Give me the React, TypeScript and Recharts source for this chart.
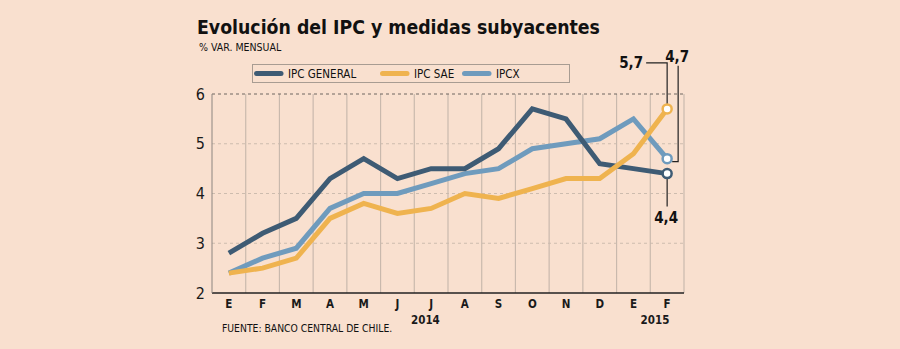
import React from 'react';
import { LineChart, Line, XAxis, YAxis, CartesianGrid, ReferenceLine } from 'recharts';

const months = ['E', 'F', 'M', 'A', 'M', 'J', 'J', 'A', 'S', 'O', 'N', 'D', 'E', 'F'];
const ipcGeneral = [2.8, 3.2, 3.5, 4.3, 4.7, 4.3, 4.5, 4.5, 4.9, 5.7, 5.5, 4.6, 4.5, 4.4];
const ipcSae = [2.4, 2.5, 2.7, 3.5, 3.8, 3.6, 3.7, 4.0, 3.9, 4.1, 4.3, 4.3, 4.8, 5.7];
const ipcx = [2.4, 2.7, 2.9, 3.7, 4.0, 4.0, 4.2, 4.4, 4.5, 4.9, 5.0, 5.1, 5.5, 4.7];
const yTicks = [2, 3, 4, 5, 6];
const years = [
  { label: '2014', pos: 5.83 },
  { label: '2015', pos: 12.64 },
];

const BG = '#f9e0cf';
const F = "'DejaVu Sans Condensed', 'DejaVu Sans', sans-serif";
const TEXT = '#1a1a1a';

type Series = { key: string; name: string; color: string; values: number[]; note: 'below' | 'upLeft' | 'upRight' };
const series: Series[] = [
  { key: 'general', name: 'IPC GENERAL', color: '#3e5b74', values: ipcGeneral, note: 'below' },
  { key: 'sae', name: 'IPC SAE', color: '#efb34f', values: ipcSae, note: 'upLeft' },
  { key: 'ipcx', name: 'IPCX', color: '#6f9bbd', values: ipcx, note: 'upRight' },
];
const drawOrder = ['ipcx', 'general', 'sae'];

const data = months.map((m, i) => {
  const row: Record<string, number | string> = { i, m };
  series.forEach((s) => (row[s.key] = s.values[i]));
  return row;
});

const last = months.length - 1;
const fmt = (v: number) => v.toFixed(1).replace('.', ',');

const makeDot = (s: Series) => (props: any) => {
  const { cx, cy, index } = props;
  if (index !== last || cx == null || cy == null) return <g key={`d-${s.key}-${index}`} />;
  const label = fmt(s.values[index]);
  const lineStyle = { stroke: '#222', strokeWidth: 1.2, fill: 'none' } as const;
  const txt = { fontFamily: F, fontWeight: 700, fontSize: 15, fill: '#111' } as const;
  let note: React.ReactNode = null;
  if (s.note === 'below') {
    note = (
      <g>
        <line x1={cx} y1={cy + 5} x2={cx} y2={cy + 33} {...lineStyle} />
        <text x={cx - 1} y={cy + 49} textAnchor="middle" {...txt}>{label}</text>
      </g>
    );
  } else if (s.note === 'upLeft') {
    note = (
      <g>
        <polyline points={`${cx},${cy - 5} ${cx},${cy - 46} ${cx - 21},${cy - 46}`} {...lineStyle} />
        <text x={cx - 24} y={cy - 41} textAnchor="end" {...txt}>{label}</text>
      </g>
    );
  } else {
    note = (
      <g>
        <polyline points={`${cx + 5},${cy + 3} ${cx + 11},${cy + 3} ${cx + 11},${cy - 93}`} {...lineStyle} />
        <text x={cx + 10} y={cy - 97} textAnchor="middle" {...txt}>{label}</text>
      </g>
    );
  }
  return (
    <g key={`d-${s.key}-${index}`}>
      {note}
      <circle cx={cx} cy={cy} r={4.5} fill="#fff" stroke={s.color} strokeWidth={2.5} />
    </g>
  );
};

const legendX = [254, 380, 462];

export default function App() {
  const ordered = drawOrder.map((k) => series.find((s) => s.key === k)!);
  return (
    <div style={{ position: 'absolute', left: 0, top: 0, width: 900, height: 349, background: BG, overflow: 'hidden' }}>
      <LineChart
        width={900}
        height={349}
        data={data}
        margin={{ top: 94, right: 216, bottom: 20, left: 182 }}
      >
        <CartesianGrid vertical={false} stroke="#cdbcae" strokeDasharray="3 3" horizontalValues={[3, 4, 5]} />
        {months.map((_, i) => (
          <ReferenceLine key={`v${i}`} x={i + 0.5} stroke="#c9b9ad" strokeWidth={1.2} ifOverflow="visible" />
        ))}
        <ReferenceLine y={6} stroke="#6e6660" strokeDasharray="3 3" />
        <XAxis
          dataKey="i"
          type="number"
          domain={[-0.5, last + 0.5]}
          ticks={months.map((_, i) => i)}
          interval={0}
          tickFormatter={(v: number) => months[v]}
          tickLine={false}
          tickSize={0}
          tickMargin={7}
          height={16}
          axisLine={{ stroke: '#222', strokeWidth: 1.5 }}
          tick={{ fontFamily: F, fontWeight: 700, fontSize: 11.5, fill: TEXT }}
        />
        <XAxis
          xAxisId="year"
          dataKey="i"
          type="number"
          domain={[-0.5, last + 0.5]}
          ticks={years.map((y) => y.pos)}
          interval={0}
          tickFormatter={(v: number) => years.find((y) => y.pos === v)?.label ?? ''}
          tickLine={false}
          tickSize={0}
          tickMargin={7}
          height={20}
          axisLine={false}
          tick={{ fontFamily: F, fontWeight: 700, fontSize: 11.5, fill: TEXT }}
        />
        <YAxis
          domain={[2, 6]}
          ticks={yTicks}
          interval={0}
          width={30}
          tickLine={false}
          tickSize={0}
          tickMargin={7}
          axisLine={{ stroke: '#8c8580', strokeWidth: 1 }}
          tick={{ fontFamily: F, fontSize: 16, fill: TEXT }}
        />
        {ordered.map((s) => (
          <Line
            key={s.key}
            dataKey={s.key}
            name={s.name}
            stroke={s.color}
            strokeWidth={5}
            type="linear"
            dot={makeDot(s)}
            activeDot={false}
            isAnimationActive={false}
          />
        ))}
      </LineChart>
      <svg width={900} height={349} style={{ position: 'absolute', left: 0, top: 0, pointerEvents: 'none' }}>
        <text x={197} y={34.3} fontFamily={F} fontWeight={700} fontSize={19.3} fill="#111">
          Evolución del IPC y medidas subyacentes
        </text>
        <text x={199} y={50.5} fontFamily={F} fontSize={10.5} fill="#111">
          % VAR. MENSUAL
        </text>
        <rect x={252.5} y={64.5} width={317} height={18} fill="none" stroke="#a89c92" strokeWidth={1} />
        {series.map((s, k) => (
          <g key={s.key}>
            <line x1={legendX[k] + 2.5} y1={73.5} x2={legendX[k] + 27} y2={73.5} stroke={s.color} strokeWidth={5} strokeLinecap="round" />
            <text x={legendX[k] + 34} y={78.3} fontFamily={F} fontSize={11.5} fill="#111">
              {s.name}
            </text>
          </g>
        ))}
        <text x={222} y={331.7} fontFamily={F} fontSize={10.3} fill="#111">
          FUENTE: BANCO CENTRAL DE CHILE.
        </text>
      </svg>
    </div>
  );
}
